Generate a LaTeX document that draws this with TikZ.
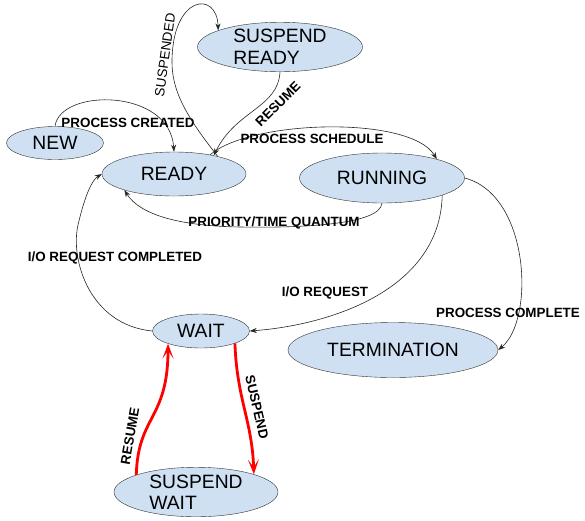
\documentclass[tikz,border=0pt]{standalone}
\usepackage{fontspec}
\setmainfont{Liberation Sans}
\usetikzlibrary{arrows.meta,shapes.geometric}
\definecolor{stateblue}{RGB}{206,224,242}

\begin{document}
\begin{tikzpicture}[
  x=1pt, y=-1pt,
  state/.style={draw=black!80, ellipse, fill=stateblue, inner sep=0pt, font=\fontsize{19.3}{21.5}\selectfont, align=left},
  arrow/.style={-{Stealth[length=7pt,width=5pt]}, draw=black!85, line width=0.6pt},
  redarrow/.style={-{Stealth[length=15pt,width=11pt,inset=8pt]}, draw=red, line width=2.8pt},
  lbl/.style={font=\fontsize{13.4}{15}\selectfont\bfseries, inner sep=0pt},
  lblthin/.style={font=\fontsize{13.5}{15}\selectfont, inner sep=0pt}
]
\useasboundingbox[fill=white] (0,0) rectangle (585,520);

% states
\node[state, minimum width=165, minimum height=46] (sready) at (280,47) {SUSPEND\\READY};
\node[state, minimum width=97, minimum height=33] (new) at (55,143) {NEW};
\node[state, minimum width=144, minimum height=44] (ready) at (174,174) {READY};
\node[state, minimum width=165, minimum height=50] (running) at (382,178) {RUNNING};
\node[state, minimum width=97, minimum height=34] (wait) at (201,331) {WAIT};
\node[state, minimum width=210, minimum height=55] (term) at (393,350) {TERMINATION};
\node[state, minimum width=164, minimum height=46] (swait) at (196,492) {SUSPEND\\WAIT};

% transitions
\draw[arrow] (new.north) .. controls (60,88) and (170,88) .. (ready.north);
\node[lbl] (lcreated) at (128,123) {PROCESS CREATED};

\draw[arrow] (ready.22) .. controls (185,115) and (172,90) .. (172,62)
  .. controls (172,-5) and (217,-10) .. (sready.165);
\node[lblthin, rotate=82] (lsuspended) at (165,55) {SUSPENDED};

\draw[arrow] (sready.south) .. controls (278,108) and (236,110) .. (ready.25);
\node[lbl, rotate=45] (lresume) at (278,104) {RESUME};

\draw[arrow] (ready.28) .. controls (250,120) and (410,115) .. (running.19);
\node[lbl] (lschedule) at (312,139) {PROCESS SCHEDULE};

\draw[arrow] (running.south) .. controls (380,225) and (300,228) .. (240,227)
  .. controls (180,226) and (140,215) .. (ready.-162);
\node[lbl] (lquantum) at (274,223) {PRIORITY/TIME QUANTUM};

\draw[arrow] (running.-16) .. controls (440,290) and (330,325) .. (wait.east);
\node[lbl] (lrequest) at (325,293) {I/O REQUEST};

\draw[arrow] (wait.west) .. controls (90,325) and (70,260) .. (78,225)
  .. controls (85,195) and (92,180) .. (ready.west);
\node[lbl] (lcompleted) at (115,258) {I/O REQUEST COMPLETED};

\draw[arrow] (running.east) .. controls (530,195) and (535,320) .. (term.east);
\node[lbl] (lcomplete) at (508,313) {PROCESS COMPLETE};

\draw[redarrow] (wait.-20) .. controls (237,400) and (252,420) .. (swait.17);
\node[lbl, rotate=-77] (lsuspend) at (257,407) {SUSPEND};

\draw[redarrow] (swait.164) .. controls (138,415) and (168,420) .. (wait.-159);
\node[lbl, rotate=80] (lresume2) at (130,436) {RESUME};

\end{tikzpicture}
\end{document}
